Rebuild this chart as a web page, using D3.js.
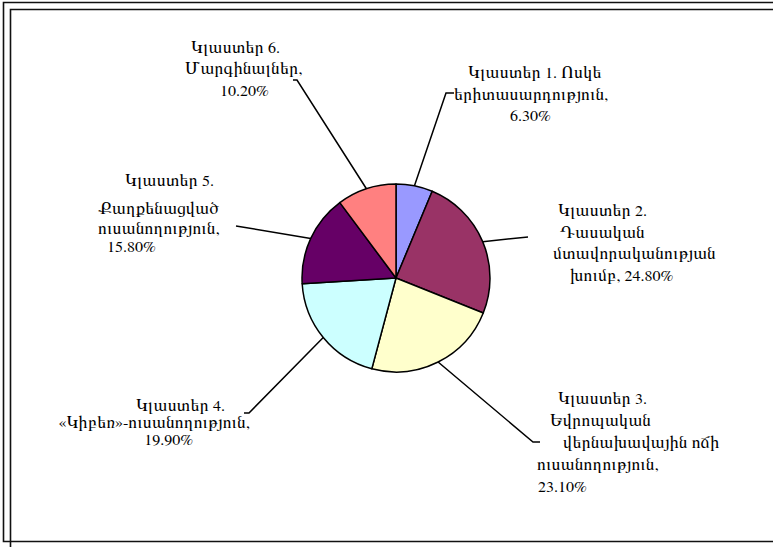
<!DOCTYPE html>
<html>
<head>
<meta charset="utf-8">
<script src="https://cdn.jsdelivr.net/npm/d3@7"></script>
<style>
  html, body { margin: 0; padding: 0; background: #fff; }
  svg { display: block; }
  .lbl { font-family: "FreeSerif", "Liberation Serif", serif; font-size: 16px; fill: #000; }
  .arm { font-size: 17.5px; letter-spacing: 0.4px; }
</style>
</head>
<body>
<svg id="chart"></svg>
<script>
// data
const categories = ['Կլաստեր 1', 'Կլաստեր 2', 'Կլաստեր 3', 'Կլաստեր 4', 'Կլաստեր 5', 'Կլաստեր 6'];
const values = [6.3, 24.8, 23.1, 19.9, 15.8, 10.2];
const colors = ['#9999ff', '#993366', '#ffffcc', '#ccffff', '#660066', '#ff8080'];
// label text, {p} is replaced by the percent value
const labelLines = [
  ['Կլաստեր 1. Ոսկե', 'երիտասարդություն,', '{p}'],
  ['Կլաստեր 2.', 'Դասական', 'մտավորականության', 'խումբ, {p}'],
  ['Կլաստեր 3.', 'Եվրոպական', 'վերնախավային ոճի', 'ուսանողություն,', '{p}'],
  ['Կլաստեր 4.', '«Կիբեռ»-ուսանողություն,', '{p}'],
  ['Կլաստեր 5.', 'Քաղքենացված', 'ուսանողություն,', '{p}'],
  ['Կլաստեր 6.', 'Մարգինալներ,', '{p}']
];

// layout of the labels (where Excel put them)
const labelLayout = [
  {anchor: 'start', x: [468, 454, 510], y: [78, 100, 121], end: [446, 93], tick: 454},
  {anchor: 'start', x: [558, 560, 553, 570], y: [216, 237.5, 259, 280.5], end: [528, 237], tick: null},
  {anchor: 'start', x: [558, 550, 563, 537, 538], y: [404, 426, 448, 470, 491.5], end: [533, 442], tick: 540},
  {anchor: 'end', x: [225, 250, 193], y: [411, 428, 445], end: [249, 413], tick: 244},
  {anchor: 'start', x: [125, 98, 98, 107], y: [186, 214, 234, 252], end: [236, 226], tick: null},
  {anchor: 'start', x: [191, 185, 220], y: [53, 74, 96], end: [297, 80], tick: 293}
];

const width = 773;
const height = 547;
const center = {x: 396, y: 278};
const radius = 94;

let svg = d3.select('#chart')
  .attr('width', width)
  .attr('height', height);

svg.append('rect')
  .attr('width', width)
  .attr('height', height)
  .attr('fill', '#fff');

// double frame, clipped on the right / bottom like the original
const frame = svg.append('g')
  .attr('fill', 'none')
  .attr('stroke', '#111')
  .attr('stroke-width', 1.6);
frame.append('path').attr('d', `M${width + 2},2.5 H3.5 V541.5 H${width + 2}`);
frame.append('path').attr('d', `M${width + 2},9.5 H10.5 V${height + 2}`);

const pie = d3.pie()
  .sort(null)
  .value(d => d.value);

const arcs = pie(values.map((v, i) => ({name: categories[i], value: v, color: colors[i]})));

const arc = d3.arc()
  .innerRadius(0)
  .outerRadius(radius);

const edgeArc = d3.arc()
  .innerRadius(radius)
  .outerRadius(radius);

let pieG = svg.append('g')
  .attr('transform', `translate(${center.x}, ${center.y})`);

pieG.selectAll('path')
  .data(arcs)
  .enter().append('path')
  .attr('d', arc)
  .attr('fill', d => d.data.color)
  .attr('stroke', '#000')
  .attr('stroke-width', 1.5)
  .attr('stroke-linejoin', 'round');

// leader lines
svg.append('g')
  .selectAll('path')
  .data(arcs)
  .enter().append('path')
  .attr('fill', 'none')
  .attr('stroke', '#000')
  .attr('stroke-width', 1.5)
  .attr('d', (d, i) => {
    const lay = labelLayout[i];
    const c = edgeArc.centroid(d);
    let p = `M${center.x + c[0]},${center.y + c[1]} L${lay.end[0]},${lay.end[1]}`;
    if (lay.tick != null) p += ` L${lay.tick},${lay.end[1]}`;
    return p;
  });

// labels - armenian runs get a slightly bigger size (Sylfaen is wider than FreeSerif)
const armRun = /([\u0531-\u058f]+)/;
arcs.forEach((d, i) => {
  const lay = labelLayout[i];
  const pct = d.data.value.toFixed(2) + '%';
  let t = svg.append('text')
    .attr('class', 'lbl')
    .attr('text-anchor', lay.anchor);
  labelLines[i].forEach((line, j) => {
    let ln = t.append('tspan')
      .attr('x', lay.x[j])
      .attr('y', lay.y[j]);
    line.replace('{p}', pct).split(armRun).forEach(part => {
      if (!part) return;
      ln.append('tspan')
        .attr('class', armRun.test(part) ? 'arm' : null)
        .text(part);
    });
  });
});
</script>
</body>
</html>
